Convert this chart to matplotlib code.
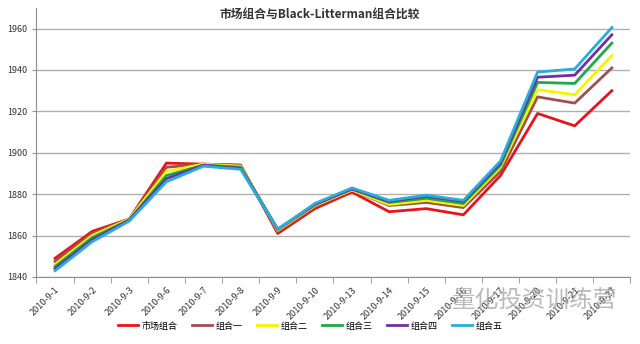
import matplotlib
matplotlib.use('Agg')
import matplotlib.pyplot as plt
import numpy as np

plt.rcParams['font.family'] = ['Noto Sans CJK SC', 'DejaVu Sans']

dates = ['2010-9-1', '2010-9-2', '2010-9-3', '2010-9-6', '2010-9-7', '2010-9-8',
         '2010-9-9', '2010-9-10', '2010-9-13', '2010-9-14', '2010-9-15', '2010-9-16',
         '2010-9-17', '2010-9-20', '2010-9-21', '2010-9-27']

market = [1849, 1862, 1868, 1895, 1894.5, 1894, 1861, 1873, 1881, 1871.5, 1873, 1870, 1889, 1919, 1913, 1930]
combo1 = [1847.5, 1861, 1868, 1893, 1894.5, 1894, 1862, 1874, 1882, 1874.5, 1876, 1873.5, 1891, 1927, 1924, 1941]
combo2 = [1846, 1860, 1868, 1891, 1894.5, 1893.5, 1862.5, 1874.5, 1882, 1875, 1877, 1874.5, 1893, 1930.5, 1928, 1947]
combo3 = [1845, 1859, 1867.5, 1889, 1894, 1893, 1863, 1875, 1882.5, 1876, 1878, 1875.5, 1894, 1934, 1933.5, 1953]
combo4 = [1844, 1858, 1867.5, 1887.5, 1894, 1892.5, 1863, 1875, 1882.5, 1876.5, 1879, 1876.5, 1895, 1936.5, 1937.5, 1957]
combo5 = [1843, 1857, 1867, 1886, 1893.5, 1892, 1863, 1875.5, 1883, 1877, 1879.5, 1877, 1896, 1939, 1940.5, 1960.5]

names = ['市场组合', '组合一', '组合二', '组合三', '组合四', '组合五']
colors = ['#E8141B', '#A0504D', '#F5F500', '#20A84A', '#7030A0', '#28AEDC']

fig = plt.figure(figsize=(6.4, 3.44), dpi=100)
ax = fig.add_axes([0.057, 0.195, 0.928, 0.782])

x = np.arange(len(dates))
for vals, name, c in zip([market, combo1, combo2, combo3, combo4, combo5], names, colors):
    ax.plot(x, vals, color=c, lw=2, label=name)

ax.set_xlim(-0.5, len(dates) - 0.5)
ax.set_ylim(1840, 1970)
ax.set_yticks(np.arange(1840, 1961, 20))
ax.yaxis.grid(True, color='#B0B0B0', lw=1)
ax.set_axisbelow(True)
for s in ['top', 'right']:
    ax.spines[s].set_visible(False)
ax.spines['left'].set_color('#909090')
ax.spines['bottom'].set_color('#909090')

ax.set_xticks(x)
ax.set_xticklabels(dates, rotation=45, ha='right', rotation_mode='anchor', fontsize=6.5, color='#333333')
ax.set_xticks(np.arange(-0.5, len(dates), 1), minor=True)
ax.tick_params(axis='x', which='major', length=0, pad=6)
ax.tick_params(axis='x', which='minor', length=4, color='#909090')
ax.tick_params(axis='y', labelsize=6.5, length=3, color='#909090', labelcolor='#333333')

fig.text(0.5, 0.958, '市场组合与Black-Litterman组合比较', ha='center', va='center',
         fontsize=8.5, fontweight='bold', color='#333333')

fig.legend(loc='center', bbox_to_anchor=(0.485, 0.052), ncol=6, fontsize=6.5, frameon=False,
           handlelength=2.2, columnspacing=1.6, handletextpad=0.4)

# watermark
fig.text(0.835, 0.125, '量化投资训练营', ha='center', va='center', fontsize=17, color='#A8A8A8', alpha=0.8)

fig.savefig('out.png', dpi=100)
